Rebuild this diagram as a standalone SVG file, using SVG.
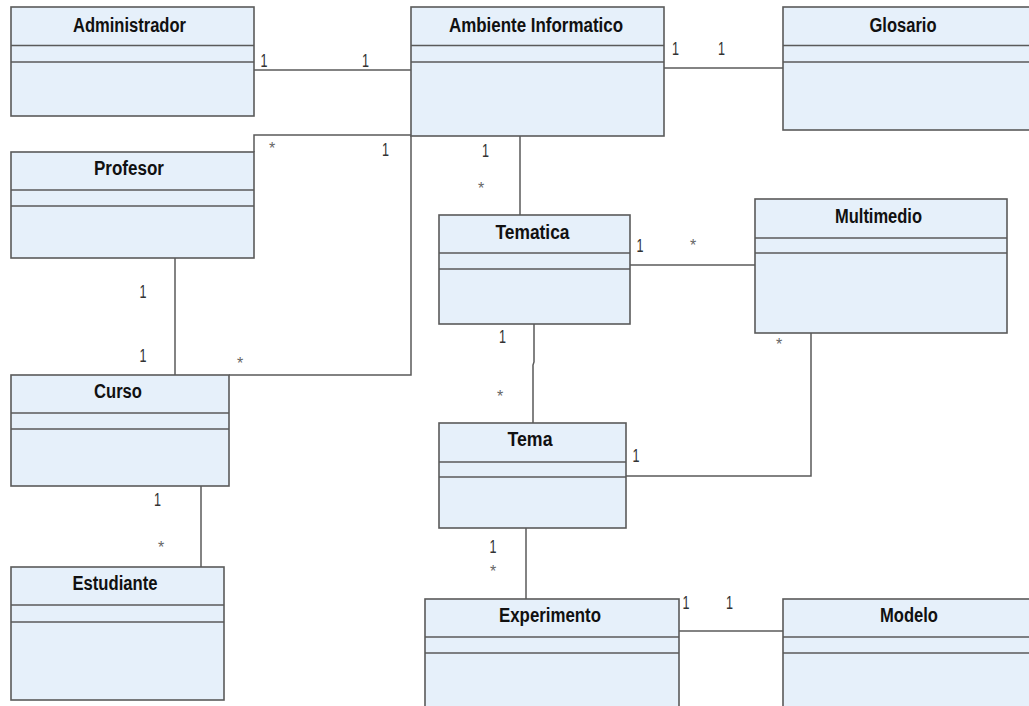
<svg xmlns="http://www.w3.org/2000/svg" width="1029" height="706" viewBox="0 0 1029 706">
  <style>
    .box { fill: #e6f0fa; stroke: #5a5a5a; stroke-width: 1.6; }
    .div { stroke: #5a5a5a; stroke-width: 1.6; }
    .title { font-family: "Liberation Sans", Arial, sans-serif; font-weight: bold; font-size: 20px; fill: #111; text-anchor: middle; }
    .conn { fill: none; stroke: #5a5a5a; stroke-width: 1.5; }
    .one { font-family: "Liberation Sans", Arial, sans-serif; font-size: 18px; fill: #333; text-anchor: middle; }
    .many { font-family: "Liberation Sans", Arial, sans-serif; font-size: 16px; fill: #666; text-anchor: middle; }
  </style>
  <rect width="1029" height="706" fill="#ffffff"/>

  <!-- associations -->
  <g id="connectors">
    <path class="conn" d="M254 70 H411"/>
    <path class="conn" d="M664 68 H783"/>
    <path class="conn" d="M254 152 V135 H411"/>
    <path class="conn" d="M411 136 V375 H229"/>
    <path class="conn" d="M175 258 V375"/>
    <path class="conn" d="M201 486 V567"/>
    <path class="conn" d="M520 136 V215"/>
    <path class="conn" d="M630 265 H755"/>
    <path class="conn" d="M534 324 V362 L533 365 V423"/>
    <path class="conn" d="M811 333 V476 H626"/>
    <path class="conn" d="M526 528 V599"/>
    <path class="conn" d="M679 631 H783"/>

    <!-- multiplicities -->
    <text class="one" x="264" y="66.5" textLength="7" lengthAdjust="spacingAndGlyphs">1</text>
    <text class="one" x="365.5" y="66.5" textLength="7" lengthAdjust="spacingAndGlyphs">1</text>
    <text class="one" x="675.5" y="55" textLength="7" lengthAdjust="spacingAndGlyphs">1</text>
    <text class="one" x="721.5" y="55" textLength="7" lengthAdjust="spacingAndGlyphs">1</text>
    <text class="many" x="272" y="154">*</text>
    <text class="one" x="385.5" y="156" textLength="7" lengthAdjust="spacingAndGlyphs">1</text>
    <text class="one" x="485.5" y="156.5" textLength="7" lengthAdjust="spacingAndGlyphs">1</text>
    <text class="many" x="481" y="194">*</text>
    <text class="one" x="143" y="298" textLength="7" lengthAdjust="spacingAndGlyphs">1</text>
    <text class="one" x="143" y="361.5" textLength="7" lengthAdjust="spacingAndGlyphs">1</text>
    <text class="many" x="240" y="368.5">*</text>
    <text class="one" x="157.5" y="505.5" textLength="7" lengthAdjust="spacingAndGlyphs">1</text>
    <text class="many" x="161" y="552.5">*</text>
    <text class="one" x="640" y="251.5" textLength="7" lengthAdjust="spacingAndGlyphs">1</text>
    <text class="many" x="693" y="250.5">*</text>
    <text class="one" x="502.5" y="342.5" textLength="7" lengthAdjust="spacingAndGlyphs">1</text>
    <text class="many" x="500" y="401.5">*</text>
    <text class="many" x="779" y="349.5">*</text>
    <text class="one" x="636" y="462" textLength="7" lengthAdjust="spacingAndGlyphs">1</text>
    <text class="one" x="493" y="553" textLength="7" lengthAdjust="spacingAndGlyphs">1</text>
    <text class="many" x="493" y="576.5">*</text>
    <text class="one" x="686" y="609" textLength="7" lengthAdjust="spacingAndGlyphs">1</text>
    <text class="one" x="729.5" y="609" textLength="7" lengthAdjust="spacingAndGlyphs">1</text>
  </g>

  <g id="administrador">
    <rect class="box" x="11" y="7" width="243" height="109"/>
    <line class="div" x1="11" y1="45.5" x2="254" y2="45.5"/>
    <line class="div" x1="11" y1="62" x2="254" y2="62"/>
    <text class="title" x="129.5" y="31.5" textLength="113" lengthAdjust="spacingAndGlyphs">Administrador</text>
  </g>

  <g id="ambiente-informatico">
    <rect class="box" x="411" y="7" width="253" height="129"/>
    <line class="div" x1="411" y1="45.5" x2="664" y2="45.5"/>
    <line class="div" x1="411" y1="62" x2="664" y2="62"/>
    <text class="title" x="536" y="31.5" textLength="174" lengthAdjust="spacingAndGlyphs">Ambiente Informatico</text>
  </g>

  <g id="glosario">
    <rect class="box" x="783" y="7" width="260" height="123"/>
    <line class="div" x1="783" y1="45.5" x2="1043" y2="45.5"/>
    <line class="div" x1="783" y1="62" x2="1043" y2="62"/>
    <text class="title" x="903" y="31.5" textLength="67" lengthAdjust="spacingAndGlyphs">Glosario</text>
  </g>

  <g id="profesor">
    <rect class="box" x="11" y="152" width="243" height="106"/>
    <line class="div" x1="11" y1="190" x2="254" y2="190"/>
    <line class="div" x1="11" y1="206" x2="254" y2="206"/>
    <text class="title" x="129" y="175" textLength="70" lengthAdjust="spacingAndGlyphs">Profesor</text>
  </g>

  <g id="curso">
    <rect class="box" x="11" y="375" width="218" height="111"/>
    <line class="div" x1="11" y1="413" x2="229" y2="413"/>
    <line class="div" x1="11" y1="429" x2="229" y2="429"/>
    <text class="title" x="118" y="398" textLength="48" lengthAdjust="spacingAndGlyphs">Curso</text>
  </g>

  <g id="estudiante">
    <rect class="box" x="11" y="567" width="213" height="133"/>
    <line class="div" x1="11" y1="605" x2="224" y2="605"/>
    <line class="div" x1="11" y1="622" x2="224" y2="622"/>
    <text class="title" x="115" y="590" textLength="85" lengthAdjust="spacingAndGlyphs">Estudiante</text>
  </g>

  <g id="tematica">
    <rect class="box" x="439" y="215" width="191" height="109"/>
    <line class="div" x1="439" y1="253" x2="630" y2="253"/>
    <line class="div" x1="439" y1="269" x2="630" y2="269"/>
    <text class="title" x="532.5" y="238.5" textLength="74" lengthAdjust="spacingAndGlyphs">Tematica</text>
  </g>

  <g id="multimedio">
    <rect class="box" x="755" y="199" width="252" height="134"/>
    <line class="div" x1="755" y1="238" x2="1007" y2="238"/>
    <line class="div" x1="755" y1="253" x2="1007" y2="253"/>
    <text class="title" x="878.5" y="222.5" textLength="87" lengthAdjust="spacingAndGlyphs">Multimedio</text>
  </g>

  <g id="tema">
    <rect class="box" x="439" y="423" width="187" height="105"/>
    <line class="div" x1="439" y1="462" x2="626" y2="462"/>
    <line class="div" x1="439" y1="477" x2="626" y2="477"/>
    <text class="title" x="530" y="446" textLength="45" lengthAdjust="spacingAndGlyphs">Tema</text>
  </g>

  <g id="experimento">
    <rect class="box" x="425" y="599" width="254" height="120"/>
    <line class="div" x1="425" y1="637" x2="679" y2="637"/>
    <line class="div" x1="425" y1="653" x2="679" y2="653"/>
    <text class="title" x="550" y="622" textLength="102" lengthAdjust="spacingAndGlyphs">Experimento</text>
  </g>

  <g id="modelo">
    <rect class="box" x="783" y="599" width="260" height="120"/>
    <line class="div" x1="783" y1="637" x2="1043" y2="637"/>
    <line class="div" x1="783" y1="653" x2="1043" y2="653"/>
    <text class="title" x="909" y="622" textLength="58" lengthAdjust="spacingAndGlyphs">Modelo</text>
  </g>
</svg>
